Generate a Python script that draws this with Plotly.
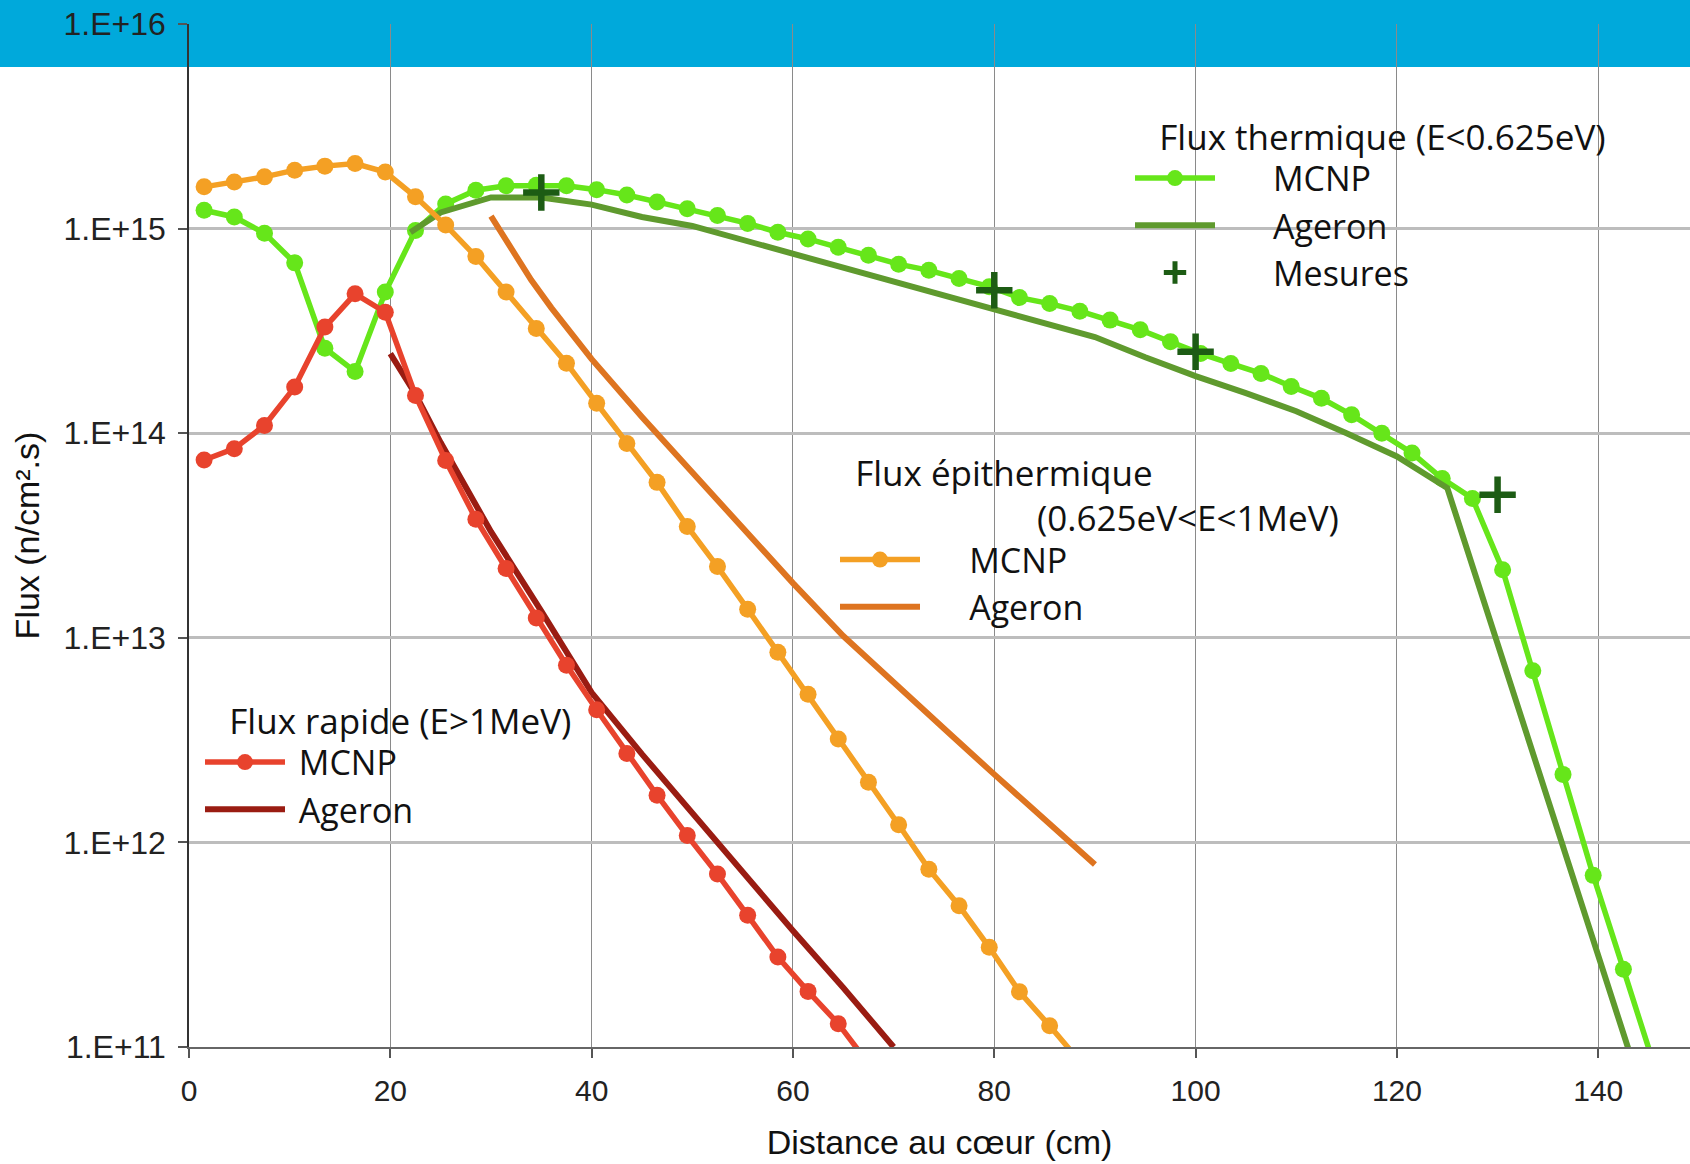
import plotly.graph_objects as go

# ---------------- data ----------------
x_mcnp_th = [1.5, 4.5, 7.5, 10.5, 13.5, 16.5, 19.5, 22.5, 25.5, 28.5, 31.5, 34.5, 37.5, 40.5, 43.5,
             46.5, 49.5, 52.5, 55.5, 58.5, 61.5, 64.5, 67.5, 70.5, 73.5, 76.5, 79.5, 82.5, 85.5,
             88.5, 91.5, 94.5, 97.5, 100.5, 103.5, 106.5, 109.5, 112.5, 115.5, 118.5, 121.5,
             124.5, 127.5, 130.5, 133.5, 136.5, 139.5, 142.5, 145.5]
y_mcnp_th = [1.23e15, 1.14e15, 9.5e14, 6.8e14, 2.6e14, 2.0e14, 4.9e14, 9.8e14, 1.32e15, 1.54e15,
             1.62e15, 1.63e15, 1.62e15, 1.55e15, 1.46e15, 1.35e15, 1.25e15, 1.16e15, 1.06e15,
             9.6e14, 8.9e14, 8.1e14, 7.4e14, 6.7e14, 6.25e14, 5.7e14, 5.2e14, 4.6e14, 4.3e14,
             3.95e14, 3.57e14, 3.2e14, 2.8e14, 2.45e14, 2.19e14, 1.96e14, 1.69e14, 1.48e14,
             1.23e14, 1.0e14, 8.0e13, 6.0e13, 4.8e13, 2.15e13, 6.9e12, 2.15e12, 6.9e11, 2.4e11, 8.3e10]

x_ag_th = [22, 25, 30, 35, 40, 45, 50, 55, 60, 65, 70, 75, 80, 85, 90, 95, 100, 105, 110, 115,
           120, 125, 143.5]
y_ag_th = [9.6e14, 1.2e15, 1.42e15, 1.42e15, 1.31e15, 1.14e15, 1.03e15, 8.8e14, 7.5e14, 6.4e14,
           5.5e14, 4.7e14, 4.0e14, 3.45e14, 2.95e14, 2.35e14, 1.9e14, 1.57e14, 1.28e14, 1.0e14,
           7.7e13, 5.4e13, 8.2e10]

x_mes = [35, 80, 100, 130]
y_mes = [1.5e15, 5.0e14, 2.5e14, 5.0e13]

x_mcnp_epi = [1.5, 4.5, 7.5, 10.5, 13.5, 16.5, 19.5, 22.5, 25.5, 28.5, 31.5, 34.5, 37.5, 40.5,
              43.5, 46.5, 49.5, 52.5, 55.5, 58.5, 61.5, 64.5, 67.5, 70.5, 73.5, 76.5, 79.5,
              82.5, 85.5, 88.5]
y_mcnp_epi = [1.6e15, 1.69e15, 1.79e15, 1.93e15, 2.02e15, 2.08e15, 1.89e15, 1.43e15, 1.04e15,
              7.3e14, 4.9e14, 3.25e14, 2.2e14, 1.4e14, 8.9e13, 5.75e13, 3.5e13, 2.23e13,
              1.38e13, 8.5e12, 5.3e12, 3.2e12, 1.97e12, 1.22e12, 7.4e11, 4.9e11, 3.07e11,
              1.86e11, 1.27e11, 8.5e10]

x_ag_epi = [30, 32, 34, 36, 40, 45, 50, 55, 60, 65, 70, 75, 80, 85, 90]
y_ag_epi = [1.15e15, 8.0e14, 5.6e14, 4.1e14, 2.3e14, 1.2e14, 6.4e13, 3.5e13, 1.85e13, 1.02e13,
            6.0e12, 3.6e12, 2.15e12, 1.3e12, 7.8e11]

x_mcnp_fast = [1.5, 4.5, 7.5, 10.5, 13.5, 16.5, 19.5, 22.5, 25.5, 28.5, 31.5, 34.5, 37.5, 40.5,
               43.5, 46.5, 49.5, 52.5, 55.5, 58.5, 61.5, 64.5, 67.5]
y_mcnp_fast = [7.4e13, 8.4e13, 1.09e14, 1.68e14, 3.3e14, 4.8e14, 3.9e14, 1.53e14, 7.35e13,
               3.8e13, 2.18e13, 1.25e13, 7.35e12, 4.45e12, 2.72e12, 1.7e12, 1.08e12, 7.0e11,
               4.4e11, 2.75e11, 1.87e11, 1.3e11, 8.3e10]

x_ag_fast = [20, 22.5, 25, 30, 35, 40, 45, 50, 55, 60, 65, 70]
y_ag_fast = [2.45e14, 1.55e14, 9.0e13, 3.3e13, 1.35e13, 5.4e12, 2.7e12, 1.38e12, 7.1e11, 3.7e11,
             1.95e11, 1.0e11]

y_tickvals = [1e11, 1e12, 1e13, 1e14, 1e15, 1e16]
y_ticktext = ["1.E+11", "1.E+12", "1.E+13", "1.E+14", "1.E+15", "1.E+16"]
x_tickvals = [0, 20, 40, 60, 80, 100, 120, 140]

# ---------------- figure ----------------
W, H = 1690, 1164
ML, MR, MT, MB = 189, 0, 24, 117
PW = W - ML - MR
PH = H - MT - MB

def px(xf):
    return (xf - ML) / PW

def py(yf):
    return 1 - (yf - MT) / PH

C_TH = "#66E61A"
C_TH_AG = "#5F9A2E"
C_MES = "#1D5C14"
C_EPI = "#F4A024"
C_EPI_AG = "#DE7420"
C_FAST = "#E8432D"
C_FAST_AG = "#9A1C12"

nb = "\u00a0"
MK = 17
LW = 5.5
LWA = 6

fig = go.Figure()

fig.add_trace(go.Scatter(x=x_mcnp_th, y=y_mcnp_th, mode="lines+markers", name=nb * 6 + "MCNP",
                         line=dict(color=C_TH, width=LW), marker=dict(size=MK, color=C_TH),
                         legend="legend"))
fig.add_trace(go.Scatter(x=x_ag_th, y=y_ag_th, mode="lines", name=nb * 6 + "Ageron",
                         line=dict(color=C_TH_AG, width=LWA), legend="legend"))
fig.add_trace(go.Scatter(x=x_mes, y=y_mes, mode="markers", name=nb * 6 + "Mesures",
                         marker=dict(symbol="cross-thin", size=26, color=C_MES,
                                     line=dict(color=C_MES, width=6.5)),
                         legend="legend"))

fig.add_trace(go.Scatter(x=x_mcnp_epi, y=y_mcnp_epi, mode="lines+markers", name=nb * 5 + "MCNP",
                         line=dict(color=C_EPI, width=LW), marker=dict(size=MK, color=C_EPI),
                         legend="legend2"))
fig.add_trace(go.Scatter(x=x_ag_epi, y=y_ag_epi, mode="lines", name=nb * 5 + "Ageron",
                         line=dict(color=C_EPI_AG, width=LWA), legend="legend2"))

fig.add_trace(go.Scatter(x=x_ag_fast, y=y_ag_fast, mode="lines", name=nb + "Ageron",
                         line=dict(color=C_FAST_AG, width=LWA), legend="legend3", legendrank=2))
fig.add_trace(go.Scatter(x=x_mcnp_fast, y=y_mcnp_fast, mode="lines+markers", name=nb + "MCNP",
                         line=dict(color=C_FAST, width=LW), marker=dict(size=MK, color=C_FAST),
                         legend="legend3", legendrank=1))

LEG_FONT = dict(family="Open Sans", size=34, color="#111111")
TITLE_FONT = dict(family="Open Sans", size=35, color="#111111")
leg_common = dict(bgcolor="rgba(0,0,0,0)", borderwidth=0, font=LEG_FONT,
                  itemwidth=80, xanchor="left", yanchor="top", traceorder="normal",
                  tracegroupgap=0, itemclick=False)

fig.update_layout(
    legend=dict(x=px(1130), y=py(104),
                title=dict(text=nb * 3 + "Flux thermique (E<0.625eV)", font=TITLE_FONT), **leg_common),
    legend2=dict(x=px(835), y=py(440),
                 title=dict(text=nb * 2 + "Flux épithermique<br>" + nb * 22 + "(0.625eV<E<1MeV)",
                            font=TITLE_FONT),
                 **leg_common),
    legend3=dict(x=px(200), y=py(688),
                 title=dict(text=nb * 3 + "Flux rapide (E>1MeV)", font=TITLE_FONT), **leg_common),
)

fig.update_layout(
    width=W, height=H,
    margin=dict(l=ML, r=MR, t=MT, b=MB, pad=0),
    paper_bgcolor="white",
    plot_bgcolor="rgba(0,0,0,0)",
    showlegend=True,
    shapes=[dict(type="rect", xref="paper", yref="paper", x0=-1, x1=2,
                 y0=py(67), y1=py(-5), fillcolor="#00A9DB", line=dict(width=0), layer="below")],
)

fig.update_xaxes(
    range=[0, PW / 10.066], tickvals=x_tickvals,
    showgrid=True, gridcolor="#8a8a8a", gridwidth=1,
    showline=True, linecolor="#666666", linewidth=2,
    ticks="outside", ticklen=9, tickcolor="#555555", tickwidth=1.5,
    ticklabelstandoff=7,
    tickfont=dict(family="Liberation Sans, Arial", size=30, color="#222222"),
    title=dict(text="Distance au cœur (cm)", standoff=24,
               font=dict(family="Liberation Sans, Arial", size=34, color="#111111")),
    zeroline=False,
)
fig.update_yaxes(
    type="log", range=[11, 16], tickvals=y_tickvals, ticktext=y_ticktext,
    showgrid=True, gridcolor="#bdbdbd", gridwidth=2.5,
    showline=True, linecolor="#333333", linewidth=1.5,
    ticks="outside", ticklen=9, tickcolor="#555555", tickwidth=1.5,
    ticklabelstandoff=6,
    tickfont=dict(family="Liberation Sans, Arial", size=32, color="#222222"),
    title=dict(text="Flux (n/cm².s)", standoff=14,
               font=dict(family="Liberation Sans, Arial", size=34, color="#111111")),
    zeroline=False,
)

fig.write_html("out.html")
